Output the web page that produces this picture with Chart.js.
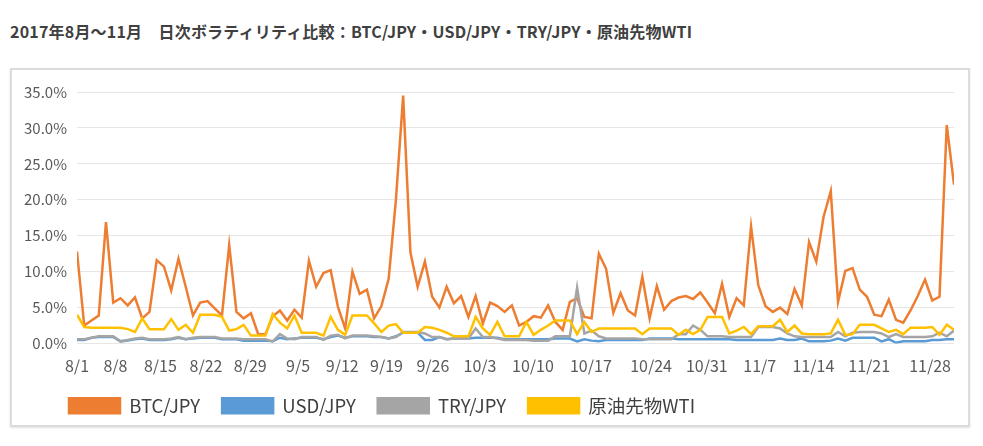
<!DOCTYPE html>
<html>
<head>
<meta charset="utf-8">
<script src="https://cdn.jsdelivr.net/npm/chart.js@4"></script>
<style>
  body { margin: 0; background: #fff; font-family: "Noto Sans CJK JP", sans-serif; }
  #title { position: absolute; left: 10px; top: 19px; font-size: 16px; letter-spacing: 0.2px; font-weight: bold; color: #404040; white-space: nowrap; }
  #box { position: absolute; left: 10px; top: 68px; width: 956px; height: 355px; border: 2px solid #dcdcdc; box-shadow: 0 1px 2px rgba(0,0,0,0.12); }
  #wrap { position: absolute; left: 0; top: 0; width: 956px; height: 355px; }
</style>
</head>
<body>
<div id="title">2017年8月～11月　日次ボラティリティ比較：BTC/JPY・USD/JPY・TRY/JPY・原油先物WTI</div>
<div id="box"><div id="wrap"><canvas id="line-chart"></canvas></div></div>
<script>
// daily values 8/1 - 11/30 (%)
var btc = [
    12.8, 2.5, 3.2, 3.9, 16.9, 5.7, 6.3, 5.3, 6.4, 3.5,
    4.4, 11.6, 10.7, 7.4, 11.8, 7.9, 3.9, 5.7, 5.9, 4.9,
    3.9, 13.7, 4.4, 3.5, 4.2, 1.3, 1.3, 3.8, 4.6, 3.2,
    4.7, 3.6, 11.5, 7.9, 9.8, 10.2, 5.1, 2.1, 10.0, 6.9,
    7.5, 3.5, 5.2, 9.0, 20.0, 34.5, 12.7, 7.9, 11.4, 6.5,
    5.0, 7.9, 5.6, 6.6, 3.7, 6.6, 2.8, 5.7, 5.2, 4.4,
    5.3, 2.5, 3.0, 3.8, 3.6, 5.3, 3.0, 1.9, 5.8, 6.3,
    3.7, 3.5, 12.5, 10.4, 4.3, 7.0, 4.6, 3.9, 9.3, 3.5,
    8.0, 4.7, 5.9, 6.4, 6.6, 6.2, 7.1, 5.7, 4.2, 8.3,
    3.7, 6.3, 5.3, 16.3, 8.1, 5.2, 4.4, 5.0, 4.1, 7.6,
    5.3, 14.1, 11.4, 17.6, 21.2, 5.8, 10.1, 10.5, 7.5, 6.5,
    4.0, 3.8, 6.1, 3.3, 2.9, 4.6, 6.6, 8.9, 6.0, 6.5,
    30.4, 22.1
]
var usd = [
    0.5, 0.5, 0.8, 0.9, 0.9, 0.9, 0.3, 0.4, 0.6, 0.7,
    0.5, 0.5, 0.5, 0.6, 0.8, 0.6, 0.7, 0.8, 0.8, 0.8,
    0.6, 0.6, 0.6, 0.4, 0.4, 0.4, 0.4, 0.3, 0.8, 0.6,
    0.7, 0.8, 0.8, 0.8, 0.6, 0.9, 1.1, 0.8, 1.0, 1.0,
    1.0, 0.9, 0.9, 0.7, 1.0, 1.5, 1.5, 1.5, 0.5, 0.5,
    0.9, 0.6, 0.7, 0.7, 0.7, 0.8, 0.8, 0.8, 0.8, 0.6,
    0.6, 0.6, 0.6, 0.6, 0.6, 0.6, 0.7, 0.7, 0.7, 0.3,
    0.6, 0.4, 0.3, 0.5, 0.5, 0.5, 0.5, 0.5, 0.5, 0.7,
    0.7, 0.7, 0.7, 0.6, 0.6, 0.6, 0.6, 0.6, 0.6, 0.6,
    0.6, 0.5, 0.5, 0.5, 0.5, 0.5, 0.5, 0.7, 0.5, 0.5,
    0.7, 0.3, 0.3, 0.3, 0.4, 0.7, 0.4, 0.8, 0.8, 0.8,
    0.8, 0.3, 0.6, 0.1, 0.3, 0.3, 0.3, 0.3, 0.5, 0.5,
    0.6, 0.6
]
var tryJpy = [
    0.6, 0.6, 0.8, 1.0, 1.0, 1.0, 0.3, 0.5, 0.7, 0.8,
    0.6, 0.6, 0.6, 0.7, 0.9, 0.6, 0.8, 0.9, 0.9, 0.9,
    0.7, 0.7, 0.7, 0.6, 0.6, 0.6, 0.6, 0.3, 1.3, 0.7,
    0.6, 0.9, 0.9, 0.9, 0.5, 1.1, 1.2, 0.7, 1.1, 1.1,
    1.1, 1.0, 0.9, 0.7, 0.9, 1.6, 1.6, 1.6, 1.4, 0.9,
    0.9, 0.6, 0.7, 0.7, 0.7, 2.1, 0.9, 0.9, 0.7, 0.5,
    0.5, 0.5, 0.5, 0.4, 0.4, 0.4, 1.0, 1.0, 1.0, 7.8,
    1.4, 1.8, 1.0, 0.7, 0.7, 0.7, 0.7, 0.7, 0.6, 0.6,
    0.6, 0.6, 0.6, 1.3, 1.3, 2.5, 1.9, 1.0, 1.0, 1.0,
    0.9, 0.9, 0.9, 0.9, 2.3, 2.3, 2.3, 2.1, 1.4, 1.0,
    0.9, 0.9, 0.9, 0.9, 0.9, 1.6, 1.0, 1.5, 1.6, 1.6,
    1.6, 1.4, 0.9, 1.3, 0.9, 0.9, 0.9, 0.9, 1.0, 1.5,
    1.0, 1.8
]
var wti = [
    4.0, 2.3, 2.2, 2.2, 2.2, 2.2, 2.2, 2.0, 1.6, 3.5,
    2.0, 2.0, 2.0, 3.4, 1.9, 2.6, 1.5, 4.0, 4.0, 4.0,
    3.7, 1.8, 2.0, 2.6, 1.1, 1.1, 1.1, 4.1, 2.9, 2.1,
    3.9, 1.5, 1.5, 1.5, 1.1, 3.7, 1.9, 1.2, 3.9, 3.9,
    3.9, 2.8, 1.6, 2.5, 2.7, 1.5, 1.5, 1.5, 2.3, 2.2,
    1.9, 1.5, 1.0, 1.0, 1.0, 3.7, 2.1, 1.2, 3.0, 1.0,
    1.0, 1.0, 3.0, 1.2, 1.9, 2.5, 3.2, 3.2, 3.2, 1.3,
    3.0, 1.6, 2.1, 2.1, 2.1, 2.1, 2.1, 2.1, 1.3, 2.1,
    2.1, 2.1, 2.1, 1.2, 1.9, 1.3, 1.9, 3.7, 3.7, 3.7,
    1.4, 1.8, 2.3, 1.3, 2.4, 2.4, 2.4, 3.3, 1.6, 2.5,
    1.4, 1.3, 1.3, 1.3, 1.4, 3.3, 1.2, 1.3, 2.6, 2.6,
    2.6, 2.1, 1.6, 1.9, 1.3, 2.2, 2.2, 2.2, 2.3, 1.2,
    2.6, 1.9
]

var seriesNames = ['BTC/JPY', 'USD/JPY', 'TRY/JPY', '原油先物WTI']
var seriesColors = ['#ed7d31', '#5b9bd5', '#a5a5a5', '#ffc000']

// x labels as they sit on the picture (day index from 8/1)
var tickLabels = ['8/1', '8/8', '8/15', '8/22', '8/29', '9/5', '9/12', '9/19', '9/26',
    '10/3', '10/10', '10/17', '10/24', '10/31', '11/7', '11/14', '11/21', '11/28']
var tickPos = [0, 5.3, 11.5, 17.8, 23.9, 30.5, 36.6, 42.7, 49.1,
    55.6, 62.9, 70.9, 79.2, 86.9, 94.2, 101.6, 109.3, 117.7]

var fontFamily = '"Noto Sans CJK JP", sans-serif'

function toPoints(list) {
    return list.map(function (v, i) { return { x: i, y: v } })
}

// push the legend to the right so it lines up under the y labels
var legendShift = {
    id: 'legendShift',
    afterLayout: function (chart) {
        chart.legend.left += 35
        chart.legend.right += 35
    }
}

function createGraph() {
    var all = [btc, usd, tryJpy, wti]
    var datasets = all.map(function (list, k) {
        return {
            label: seriesNames[k],
            data: toPoints(list),
            borderColor: seriesColors[k],
            backgroundColor: seriesColors[k],
            borderWidth: 2.5,
            pointRadius: 0,
            tension: 0,
            order: all.length - k
        }
    })
    var ctx = document.getElementById('line-chart').getContext('2d')
    new Chart(ctx, {
        type: 'line',
        data: { datasets: datasets },
        plugins: [legendShift],
        options: {
            responsive: true,
            maintainAspectRatio: false,
            animation: false,
            layout: { padding: { left: 0, right: 14, top: 22, bottom: 0 } },
            scales: {
                x: {
                    type: 'linear',
                    min: 0,
                    max: btc.length - 1,
                    grid: { display: false },
                    border: { display: false },
                    afterBuildTicks: function (scale) {
                        scale.ticks = tickPos.map(function (p) { return { value: p } })
                    },
                    afterFit: function (scale) { scale.height = 31 },
                    ticks: {
                        autoSkip: false,
                        maxRotation: 0,
                        padding: 5,
                        color: '#595959',
                        font: { family: fontFamily, size: 16 },
                        callback: function (v, i) { return tickLabels[i] }
                    }
                },
                y: {
                    min: 0,
                    max: 35,
                    grid: { color: '#e6e6e6', drawTicks: false },
                    border: { display: false },
                    afterFit: function (scale) { scale.width = 65 },
                    ticks: {
                        stepSize: 5,
                        padding: 10,
                        color: '#595959',
                        font: { family: fontFamily, size: 15 },
                        callback: function (v) { return v.toFixed(1) + '%' }
                    }
                }
            },
            plugins: {
                tooltip: { enabled: false },
                legend: {
                    position: 'bottom',
                    align: 'start',
                    labels: {
                        boxWidth: 51,
                        boxHeight: 15,
                        padding: 22,
                        color: '#404040',
                        font: { family: fontFamily, size: 18.5 },
                        sort: function (a, b) { return a.datasetIndex - b.datasetIndex }
                    }
                }
            }
        }
    })
}

createGraph()
</script>
</body>
</html>
